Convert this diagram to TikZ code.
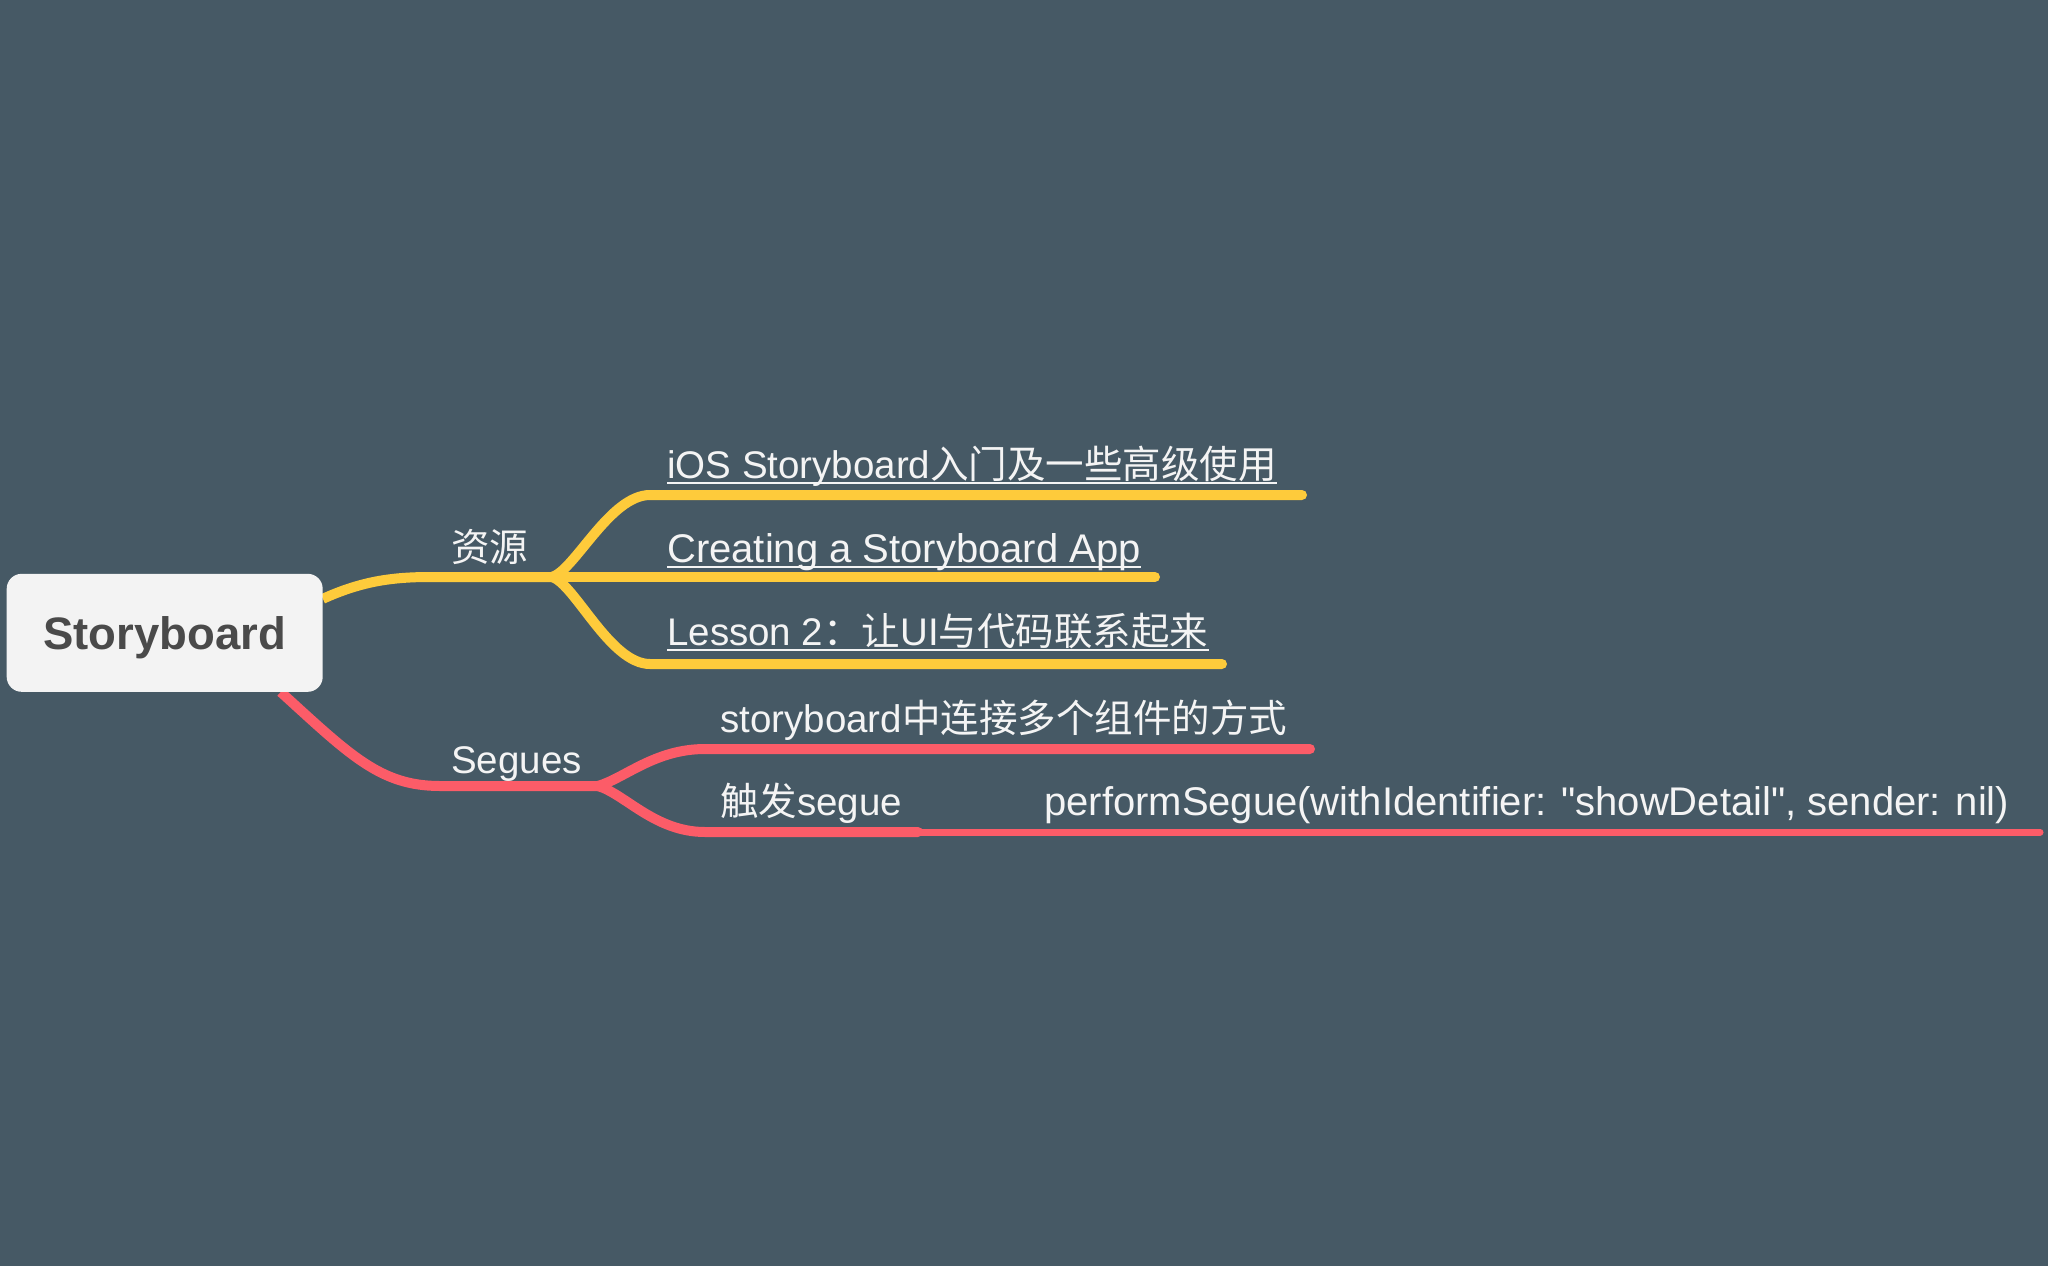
\documentclass[tikz,border=0pt]{standalone}
\usepackage{fontspec}
\setmainfont{Liberation Sans}
\newfontfamily\lat{Liberation Sans}
\newfontfamily\cjk{Noto Sans CJK SC}
\definecolor{bgc}{HTML}{465965}
\definecolor{yel}{HTML}{FECB3B}
\definecolor{redc}{HTML}{FC5C68}
\definecolor{boxc}{HTML}{F3F3F3}
\definecolor{titc}{HTML}{4A4A4A}
\definecolor{txtc}{HTML}{F4F4F4}
\pgfdeclarelayer{bglayer}
\pgfdeclarelayer{linelayer}
\pgfsetlayers{bglayer,linelayer,main}
\begin{document}
\begin{tikzpicture}[x=1pt,y=-1pt,
  rootbox/.style={fill=boxc, rounded corners=15pt, minimum width=316pt, minimum height=118pt,
    inner sep=0pt, text=titc, font=\lat\fontsize{45.5}{50}\selectfont\bfseries, text height=33pt, text depth=0pt},
  lbl/.style={inner sep=0pt, anchor=base west, text=txtc, font=\lat\fontsize{38.5}{46}\selectfont},
  lblw/.style={lbl, font=\lat\fontsize{40}{46}\selectfont},
  yline/.style={draw=yel, line width=10pt, line cap=round},
  rline/.style={draw=redc, line width=10pt, line cap=round},
  rthin/.style={draw=redc, line width=7pt, line cap=round},
  uline/.style={draw=txtc, line width=2pt}
]
\begin{pgfonlayer}{bglayer}
\fill[bgc] (0,0) rectangle (2048,1266);
\end{pgfonlayer}
\useasboundingbox (0,0) rectangle (2048,1266);

% root
\node[rootbox] (root) at (164.7,632.8) {Storyboard};

% coordinates
\coordinate (yf) at (552,577);
\coordinate (rf) at (598,786);
\coordinate (y1e) at (1302,495);
\coordinate (y2e) at (1155,577);
\coordinate (y3e) at (1222,664);
\coordinate (r1e) at (1310,749);
\coordinate (r2e) at (918,832);
\coordinate (r3e) at (2040,832);

% connectors
\begin{pgfonlayer}{linelayer}
\draw[yline, line cap=butt] ([yshift=34pt]root.east) .. controls (360,582) and (390,577) .. (430,577) -- (yf);
\draw[yline] (yf) .. controls (575,570) and (610,495) .. (650,495) -- (y1e);
\draw[yline] (yf) -- (y2e);
\draw[yline] (yf) .. controls (575,584) and (610,664) .. (650,664) -- (y3e);

\draw[rline, line cap=butt] ([xshift=116pt]root.south) .. controls (350,755) and (380,786) .. (440,786) -- (rf);
\draw[rline] (rf) .. controls (625,778) and (655,749) .. (705,749) -- (r1e);
\draw[rthin] (r2e) -- (r3e);
\draw[rline] (rf) .. controls (625,794) and (655,832) .. (705,832) -- (r2e);
\end{pgfonlayer}

% labels
\node[lbl] (res) at (451,561) {\cjk 资源};
\node[lbl] (seg) at (451,773) {Segues};
\node[lbl] (t1) at (667,478) {iOS Storyboard{\cjk 入门及一些高级使用}};
\node[lblw] (t2) at (667,562) {Creating a Storyboard App};
\node[lbl] (t3) at (667,645) {Lesson 2{\cjk ：让}UI{\cjk 与代码联系起来}};
\node[lbl] (s1) at (720,732) {storyboard{\cjk 中连接多个组件的方式}};
\node[lbl] (s2) at (720,815) {{\cjk 触发}segue};
\node[lblw] (s3) at (1044,815) {performSegue(withIdentifier: "showDetail", sender: nil)};

\foreach \t in {t1,t2,t3}
  \draw[uline] ([yshift=-4.5pt]\t.base west) -- ([yshift=-4.5pt]\t.base east);
\end{tikzpicture}
\end{document}
